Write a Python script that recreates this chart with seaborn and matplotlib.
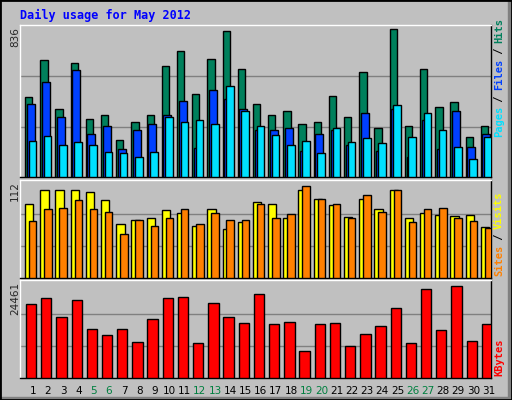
import numpy as np
import matplotlib
matplotlib.use("Agg")
from matplotlib import pyplot as plt
from matplotlib.patches import Rectangle
import seaborn as sns

days = list(range(1, 32))
weekend_days = [5, 6, 12, 13, 19, 20, 26, 27]
hits = [443, 644, 373, 628, 318, 340, 207, 306, 345, 611, 694, 456, 650, 805, 594, 401,
        340, 362, 295, 306, 450, 329, 578, 273, 816, 279, 594, 384, 412, 223, 284]
files = [401, 522, 334, 589, 240, 284, 157, 257, 295, 345, 417, 162, 478, 428, 373, 262,
         262, 273, 146, 240, 262, 174, 356, 146, 378, 113, 312, 157, 367, 168, 240]
pages = [201, 229, 179, 196, 179, 140, 135, 113, 140, 334, 301, 312, 295, 500, 362, 279,
         234, 174, 201, 135, 273, 196, 218, 190, 395, 223, 351, 262, 168, 102, 223]
visits = [86, 102, 103, 102, 100, 91, 63, 68, 70, 79, 76, 61, 81, 57, 65, 89,
          86, 70, 103, 92, 85, 71, 92, 81, 103, 70, 76, 74, 72, 74, 60]
sites = [67, 81, 82, 91, 81, 77, 51, 68, 61, 70, 81, 63, 76, 68, 68, 86,
         70, 75, 107, 92, 86, 70, 97, 77, 102, 65, 81, 82, 70, 67, 58]
kbytes = [18810, 20350, 15480, 19840, 12400, 10860, 12400, 9060, 14960, 20350, 20600,
          8810, 19070, 15480, 13940, 21380, 13680, 14190, 6750, 13680, 13940, 8040,
          11120, 13170, 17780, 8810, 22660, 12140, 23430, 9320, 13680]
max_hits, max_visits, max_kb = 836, 112, 24461

sns.set_style("white")
plt.rcParams["font.family"] = ["DejaVu Sans Mono"]
BG = "#C0C0C0"

fig = plt.figure(figsize=(5.12, 4.0), dpi=100, facecolor=BG)
W, H = 512, 400


def panel(top, bottom):
    ax = fig.add_axes([20 / W, (H - bottom) / H, 471 / W, (bottom - top) / H])
    ax.set_facecolor(BG)
    ax.set_xlim(0.5, 31.5)
    for s in ax.spines.values():
        s.set_color("black")
        s.set_linewidth(1)
    ax.spines["left"].set_color("white")
    ax.spines["top"].set_color("white")
    ax.set_xticks([])
    ax.set_yticks([])
    return ax


def bars(ax, vals, off, width, color):
    x = np.array(days) - 0.5 + off
    ax.bar(x, vals, width=width, align="edge", color=color, edgecolor="black",
           linewidth=1, zorder=3)


def grid(ax, top):
    for f in (1 / 3, 2 / 3):
        ax.axhline(top * f, color="#808080", linewidth=1, zorder=1)


ax1 = panel(25, 177)
ax1.set_ylim(0, max_hits * 1.004)
grid(ax1, max_hits)
bars(ax1, hits, 0.33, 0.48, "#00805C")
bars(ax1, files, 0.44, 0.52, "#0040FF")
bars(ax1, pages, 0.57, 0.50, "#00E0FF")

ax2 = panel(180, 278)
ax2.set_ylim(0, max_visits * 1.02)
grid(ax2, max_visits)
bars(ax2, visits, 0.33, 0.55, "#FFFF00")
bars(ax2, sites, 0.59, 0.49, "#FF8000")

ax3 = panel(280, 378)
ax3.set_ylim(0, max_kb * 1.015)
grid(ax3, max_kb)
bars(ax3, kbytes, 0.39, 0.68, "#FF0000")

for d in days:
    c = "#008040" if d in weekend_days else "black"
    ax3.text(d + 0.34, -0.08, str(d), transform=ax3.get_xaxis_transform(),
             ha="center", va="top", fontsize=7.5, color=c, family="DejaVu Sans")

fs = 7.5
fig.text(20 / W, 1 - 15 / H, "Daily usage for May 2012", color="#0000FF",
         fontsize=8.5, fontweight="bold", va="center", ha="left")
for txt, y in ((str(max_hits), 27), (str(max_visits), 181), (str(max_kb), 282)):
    fig.text(15 / W, 1 - y / H, txt, rotation=90, fontsize=fs, va="top", ha="center",
             family="DejaVu Sans")

# right-side multicolour labels, reading bottom to top
def side_label(parts, y_bottom):
    y = y_bottom
    for txt, col in parts:
        fig.text(499 / W, 1 - y / H, txt, rotation=90, fontsize=fs, color=col,
                 va="bottom", ha="center", fontweight="bold")
        y -= len(txt) * 5.9


side_label([("Pages", "#00E0FF"), (" / ", "#000000"), ("Files", "#0040FF"),
            (" / ", "#000000"), ("Hits", "#00805C")], 137)
side_label([("Sites", "#FF8000"), (" / ", "#000000"), ("Visits", "#FFFF00")], 276)
side_label([("KBytes", "#FF0000")], 376)

# outer frame
fig.patches.append(Rectangle((0, 0), 1, 1, transform=fig.transFigure, fill=False,
                             edgecolor="black", linewidth=2))
fig.patches.append(Rectangle((508 / W, 0), 3 / W, 1, transform=fig.transFigure,
                             color="#808080", zorder=0))
fig.patches.append(Rectangle((0, 0), 1, 3 / H, transform=fig.transFigure,
                             color="#808080", zorder=0))

fig.savefig("out.png", dpi=100, facecolor=BG)
